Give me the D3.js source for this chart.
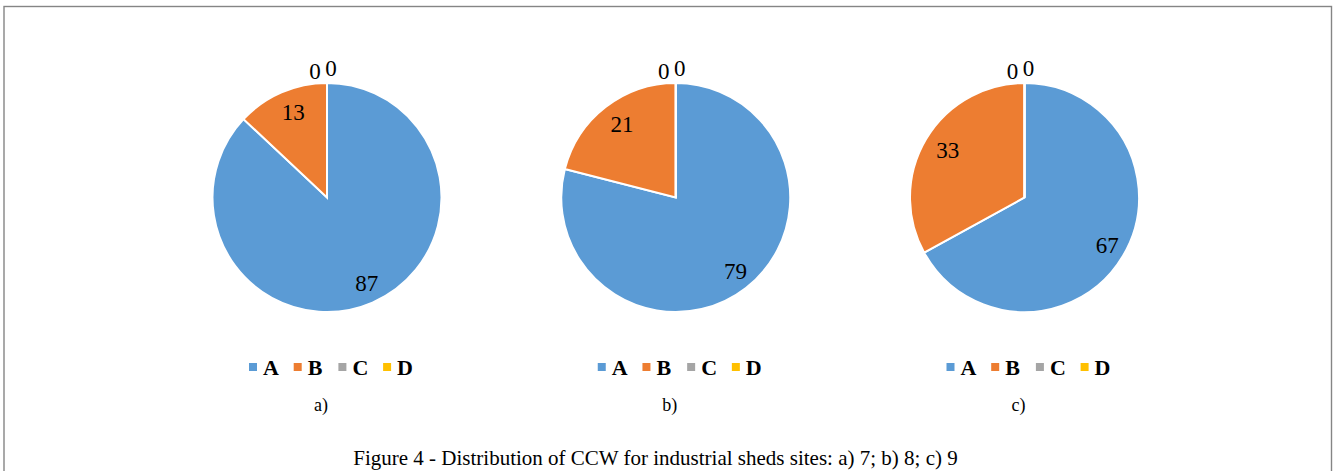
<!DOCTYPE html>
<html>
<head>
<meta charset="utf-8">
<script src="https://cdn.jsdelivr.net/npm/d3@7"></script>
<style>
    body { margin: 0; background: #fff; }
    svg { display: block; }
</style>
</head>
<body>
<div id="chart"></div>
<script>
// chart values
var categories = ['A', 'B', 'C', 'D'];
var panels = ['a)', 'b)', 'c)'];
var site7 = [87, 13, 0, 0];
var site8 = [79, 21, 0, 0];
var site9 = [67, 33, 0, 0];
var caption = 'Figure 4 - Distribution of CCW for industrial sheds sites: a) 7; b) 8; c) 9';

var colors = ['#5B9BD5', '#ED7D31', '#A5A5A5', '#FFC000'];

var width = 1334;
var height = 471;
var radius = 114.5;
var cy = 197.5;
var serif = '"Liberation Serif", "Times New Roman", serif';

var svg = d3.select('#chart')
    .append('svg')
    .attr('width', width)
    .attr('height', height);

// frame round the figure (bottom edge lies outside the picture)
svg.append('rect')
    .attr('x', 4)
    .attr('y', 6.5)
    .attr('width', 1327.5)
    .attr('height', 480)
    .attr('fill', 'none')
    .attr('stroke', '#858585')
    .attr('stroke-width', 1.4);

var xPos = d3.scalePoint().domain(panels).range([327, 1024.5]);
var color = d3.scaleOrdinal().domain(categories).range(colors);

var pie = d3.pie().sort(null).value(function(d) { return d.value; });
var arc = d3.arc().innerRadius(0).outerRadius(radius);
var labelArc = d3.arc().innerRadius(radius * 0.81).outerRadius(radius * 0.81);
var outerArc = d3.arc().innerRadius(radius + 14).outerRadius(radius + 14);

// small nudges for the two zero labels sitting on top of the pie
var zeroShift = { C: [-12, 2], D: [4, -1] };

var allSites = [site7, site8, site9];

allSites.forEach(function(vals, i) {
    var data = categories.map(function(c, j) { return { cat: c, value: vals[j] }; });
    var cx = xPos(panels[i]);
    var g = svg.append('g').attr('transform', 'translate(' + cx + ',' + cy + ')');

    var arcs = pie(data);

    g.selectAll('path')
        .data(arcs)
        .enter()
        .append('path')
        .attr('d', arc)
        .attr('fill', function(d) { return color(d.data.cat); })
        .attr('stroke', '#fff')
        .attr('stroke-width', 2);

    g.selectAll('text.lbl')
        .data(arcs)
        .enter()
        .append('text')
        .attr('class', 'lbl')
        .attr('transform', function(d) {
            if (d.data.value === 0) {
                var p = outerArc.centroid(d);
                var s = zeroShift[d.data.cat];
                return 'translate(' + (p[0] + s[0]) + ',' + (p[1] + s[1]) + ')';
            }
            var c = labelArc.centroid(d);
            return 'translate(' + (c[0] + 3) + ',' + c[1] + ')';
        })
        .attr('dy', '0.35em')
        .attr('text-anchor', 'middle')
        .style('font-family', serif)
        .style('font-size', '23px')
        .style('fill', '#000')
        .text(function(d) { return d.data.value; });

    // legend
    var leg = svg.append('g').attr('transform', 'translate(' + (cx - 78) + ',367)');
    var item = leg.selectAll('g')
        .data(categories)
        .enter()
        .append('g')
        .attr('transform', function(d, j) { return 'translate(' + (j * 44.7) + ',0)'; });

    item.append('rect')
        .attr('x', 0)
        .attr('y', -4)
        .attr('width', 8)
        .attr('height', 8)
        .attr('fill', function(d) { return color(d); });

    item.append('text')
        .attr('x', 14)
        .attr('dy', '0.35em')
        .style('font-family', serif)
        .style('font-size', '22px')
        .style('font-weight', 'bold')
        .text(function(d) { return d; });

    svg.append('text')
        .attr('x', cx - 6)
        .attr('y', 405)
        .attr('dy', '0.35em')
        .attr('text-anchor', 'middle')
        .style('font-family', serif)
        .style('font-size', '18px')
        .text(panels[i]);
});

svg.append('text')
    .attr('x', 655.5)
    .attr('y', 458)
    .attr('dy', '0.35em')
    .attr('text-anchor', 'middle')
    .style('font-family', serif)
    .style('font-size', '21px')
    .text(caption);
</script>
</body>
</html>
